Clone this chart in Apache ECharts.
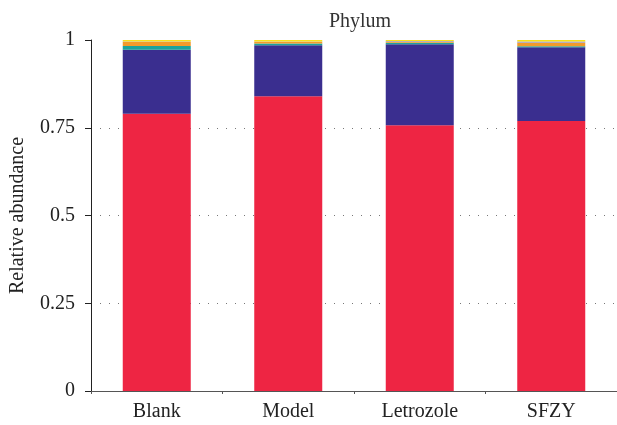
<!DOCTYPE html>
<html><head><meta charset="utf-8">
<script src="https://cdn.jsdelivr.net/npm/echarts@6/dist/echarts.min.js"></script>
<style>html,body{margin:0;padding:0;background:#fff}#c{width:617px;height:425px}</style>
</head><body><div id="c"></div>
<script>
const categories = ['Blank', 'Model', 'Letrozole', 'SFZY'];
const yTicks = [0, 0.25, 0.5, 0.75, 1];
const seriesNames = ['Phylum 1', 'Phylum 2', 'Phylum 3', 'Phylum 4', 'Phylum 5', 'Phylum 6'];
const phylum1 = [0.790, 0.840, 0.757, 0.769];
const phylum2 = [0.182, 0.145, 0.231, 0.210];
const phylum3 = [0.011, 0.005, 0.004, 0.003];
const phylum4 = [0.011, 0.005, 0.003, 0.010];
const phylum5 = [0.002, 0.001, 0.002, 0.004];
const phylum6 = [0.004, 0.004, 0.003, 0.004];
const colors = ['#EE2543', '#3A2E8F', '#1BA39C', '#F39A2B', '#A09CC0', '#F7E21B'];
const allData = [phylum1, phylum2, phylum3, phylum4, phylum5, phylum6];

const font = "'Liberation Serif', 'DejaVu Serif', serif";
const fs = 20;
const chart = echarts.init(document.getElementById('c'));
chart.setOption({
  animation: false,
  title: {text: 'Phylum', left: 355, textAlign: 'center', top: 7,
    textStyle: {fontFamily: font, fontSize: fs, fontWeight: 'normal', color: '#333'}},
  grid: {left: 90, top: 40, width: 530, bottom: 34},
  xAxis: {
    type: 'category', data: categories,
    axisLine: {lineStyle: {color: '#555', width: 1}},
    axisTick: {show: true, length: 3, lineStyle: {color: '#555'}},
    axisLabel: {fontFamily: font, fontSize: fs, color: '#222', margin: 11}
  },
  yAxis: {
    type: 'value', min: 0, max: 1, interval: 0.25,
    name: 'Relative abundance', nameLocation: 'middle', nameGap: 63,
    nameTextStyle: {fontFamily: font, fontSize: fs, color: '#222'},
    axisLine: {show: true, lineStyle: {color: '#222', width: 1}},
    axisTick: {show: true, length: 6, lineStyle: {color: '#222'}},
    axisLabel: {fontFamily: font, fontSize: fs, color: '#222', margin: 16,
      formatter: v => (yTicks.includes(v) ? String(v) : '')},
    splitLine: {show: true, showMaxLine: false, showMinLine: false,
      lineStyle: {type: [1, 8], color: '#777', width: 1}}
  },
  series: allData.map((d, i) => ({
    name: seriesNames[i], type: 'bar', stack: 'total', data: d,
    barWidth: 68, itemStyle: {color: colors[i]}
  }))
});
</script></body></html>
